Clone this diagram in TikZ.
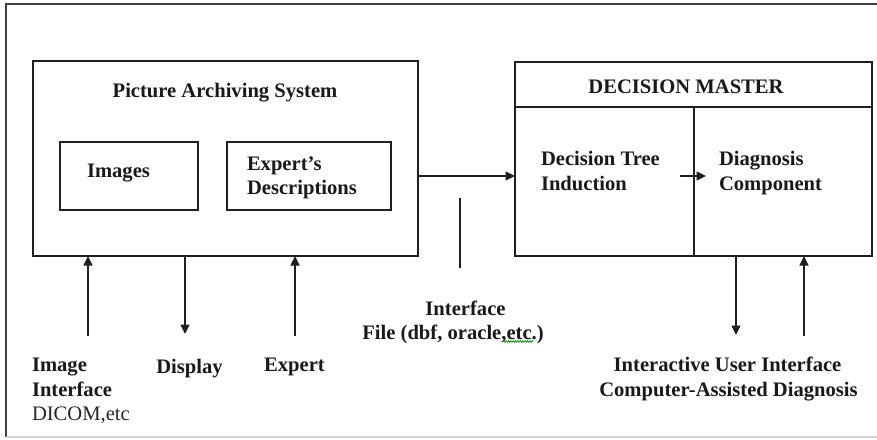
\documentclass[tikz,border=0pt]{standalone}
\usepackage{fontspec}
\setmainfont{Liberation Serif}
\usetikzlibrary{arrows.meta,decorations.pathmorphing}
\begin{document}
\begin{tikzpicture}[x=1pt,y=-1pt,
  box/.style={draw=black!88,line width=1.2pt,inner sep=0pt,outer sep=0pt},
  lbl/.style={inner sep=0pt,outer sep=0pt,font=\fontsize{20.6}{24.5}\selectfont\bfseries,text=black!90},
  rlbl/.style={inner sep=0pt,outer sep=0pt,font=\fontsize{20.6}{24.5}\selectfont,text=black!85},
  ln/.style={draw=black!88,line width=1.2pt},
  arr/.style={ln,-{Triangle[length=9.5pt,width=9pt]}}]
\useasboundingbox (0,0) rectangle (877,439);
% outer frame (partly outside the picture)
\draw[black!75,line width=1.3pt] (6,437) -- (6,4) -- (877,4);
\draw[black!18,line width=1.3pt] (6,437) -- (877,437);
% Picture Archiving System
\node[box,minimum width=385pt,minimum height=195pt] (pas) at (225.5,158.5) {};
\node[box,minimum width=138pt,minimum height=68pt] (img) at (129,176) {};
\node[box,minimum width=164pt,minimum height=68pt] (exd) at (309,176) {};
\node[lbl,anchor=base] (pastitle) at (225,97) {Picture Archiving System};
\node[lbl,anchor=base west] (imgtxt) at (87,177) {Images};
\node[lbl,anchor=base west] (exdtxt1) at (247,170) {Expert’s};
\node[lbl,anchor=base west] (exdtxt2) at (247,194) {Descriptions};
% Decision Master
\node[box,minimum width=357pt,minimum height=45pt] (dm) at (693.5,84.5) {};
\node[box,minimum width=179pt,minimum height=149pt] (dt) at (604.5,181.5) {};
\node[box,minimum width=178pt,minimum height=149pt] (dc) at (783,181.5) {};
\node[lbl,anchor=base] (dmtitle) at (686,93) {DECISION MASTER};
\node[lbl,anchor=base west] (dttxt1) at (541,165) {Decision Tree};
\node[lbl,anchor=base west] (dttxt2) at (541,190) {Induction};
\node[lbl,anchor=base west] (dctxt1) at (719,165) {Diagnosis};
\node[lbl,anchor=base west] (dctxt2) at (719,190) {Component};
% PAS -> Decision Master
\coordinate (flow) at (460,176);
\draw[arr] (pas.east |- flow) -- (dt.west |- flow);
\coordinate (k1) at (680,176);
\coordinate (k2) at (706,176);
\draw[arr] (k1) -- (k2);
% interface line and label
\coordinate (if1) at (460,198);
\coordinate (if2) at (460,268);
\draw[ln] (if1) -- (if2);
\node[lbl,anchor=base] (iftxt1) at (465.5,315) {Interface};
\node[lbl,anchor=base] (iftxt2) at (453,339) {File (dbf, oracle,etc.)};
\draw[green!60!black,line width=0.7pt,decorate,decoration={zigzag,amplitude=0.9pt,segment length=2.4pt}] (503,341.5) -- (533,341.5);
% bottom labels of PAS
\node[lbl,anchor=base west] (ii1) at (32,371) {Image};
\node[lbl,anchor=base west] (ii2) at (32,396) {Interface};
\node[rlbl,anchor=base west] (ii3) at (32,420) {DICOM,etc};
\node[lbl,anchor=base] (disp) at (189.5,373) {Display};
\node[lbl,anchor=base] (expt) at (294.5,371) {Expert};
\coordinate (a1) at (88,336);
\coordinate (a2) at (185,334);
\coordinate (a3) at (295,336);
\draw[arr] (a1) -- (pas.south -| a1);
\draw[arr] (pas.south -| a2) -- (a2);
\draw[arr] (a3) -- (pas.south -| a3);
% bottom labels of Decision Master
\node[lbl,anchor=base] (ui1) at (727.5,371) {Interactive User Interface};
\node[lbl,anchor=base] (ui2) at (728.5,396) {Computer-Assisted Diagnosis};
\coordinate (b1) at (736,335);
\coordinate (b2) at (804,336);
\draw[arr] (dc.south -| b1) -- (b1);
\draw[arr] (b2) -- (dc.south -| b2);
\end{tikzpicture}
\end{document}
